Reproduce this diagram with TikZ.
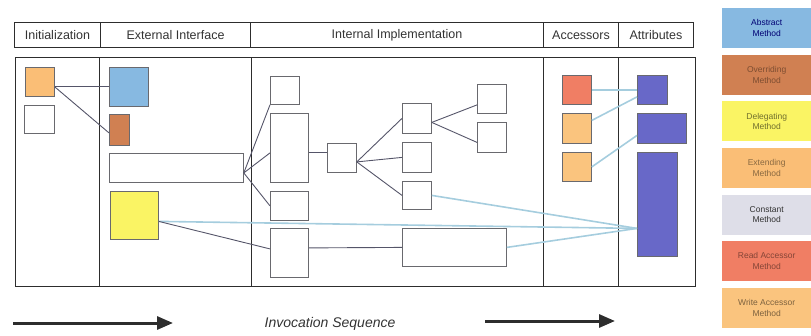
\documentclass[tikz,border=0pt]{standalone}
\usepackage{fontspec}
\setmainfont{Liberation Sans}
\usepackage{tikz}
\usetikzlibrary{positioning,arrows.meta}

\definecolor{framec}{RGB}{45,45,45}
\definecolor{boxc}{RGB}{105,105,110}
\definecolor{linkc}{RGB}{85,85,105}
\definecolor{accc}{RGB}{165,205,222}
\definecolor{abstractc}{RGB}{135,185,225}
\definecolor{overridec}{RGB}{208,128,82}
\definecolor{delegatec}{RGB}{250,244,100}
\definecolor{extendc}{RGB}{250,190,118}
\definecolor{constc}{RGB}{222,222,232}
\definecolor{readc}{RGB}{240,126,100}
\definecolor{writec}{RGB}{250,196,126}
\definecolor{attrc}{RGB}{104,104,200}

\begin{document}
\begin{tikzpicture}[
    x=1pt, y=-1pt,
    hcell/.style={draw=framec, line width=1pt, anchor=north west, inner sep=0, minimum height=25, text=black!80, font=\fontsize{12.5}{14}\selectfont},
    col/.style={draw=framec, line width=1pt, anchor=north west, inner sep=0, minimum height=229},
    mth/.style={draw=boxc, line width=0.8pt, anchor=north west, inner sep=0, fill=white},
    key/.style={anchor=north west, inner sep=0, minimum width=89, minimum height=40, align=center, font=\fontsize{8.5}{10.5}\selectfont},
    link/.style={linkc, line width=0.9pt},
    acc/.style={accc, line width=1.6pt},
    seq/.style={framec, line width=3pt, -{Triangle[length=16pt,width=13pt]}}
]
\useasboundingbox (0,0) rectangle (811,335);

\node[hcell, minimum width=86] (hinit) at (14,22) {Initialization};
\node[hcell, minimum width=150] (hext) at (100,22) {External Interface};
\node[hcell, minimum width=293] (himpl) at (250,22) {Internal Implementation};
\node[hcell, minimum width=75] (hacc) at (543,22) {Accessors};
\node[hcell, minimum width=75] (hattr) at (618,22) {Attributes};

\node[col, minimum width=84] (cinit) at (15,57) {};
\node[col, minimum width=152] (cext) at (99,57) {};
\node[col, minimum width=292] (cimpl) at (251,57) {};
\node[col, minimum width=75] (cacc) at (543,57) {};
\node[col, minimum width=77] (cattr) at (618,57) {};

\node[mth, fill=extendc, minimum width=29, minimum height=29] (iext) at (25,67) {};
\node[mth, minimum width=30, minimum height=28] (iplain) at (24,105) {};

\node[mth, fill=abstractc, minimum width=39, minimum height=39] (abs) at (109,67) {};
\node[mth, fill=overridec, minimum width=20, minimum height=31] (ovr) at (109,114) {};
\node[mth, minimum width=134, minimum height=29] (iface) at (109,153) {};
\node[mth, fill=delegatec, minimum width=48, minimum height=48] (dlg) at (110,191) {};

\node[mth, minimum width=29, minimum height=28] (ia) at (270,76) {};
\node[mth, minimum width=38, minimum height=69] (ib) at (270,113) {};
\node[mth, minimum width=38, minimum height=29] (ic) at (270,191) {};
\node[mth, minimum width=38, minimum height=49] (id) at (270,228) {};
\node[mth, minimum width=29, minimum height=29] (ja) at (327,143) {};
\node[mth, minimum width=29, minimum height=30] (ka) at (402,103) {};
\node[mth, minimum width=29, minimum height=30] (kb) at (402,142) {};
\node[mth, minimum width=29, minimum height=28] (kc) at (402,181) {};
\node[mth, minimum width=104, minimum height=38] (kd) at (402,228) {};
\node[mth, minimum width=29, minimum height=29] (la) at (477,84) {};
\node[mth, minimum width=29, minimum height=30] (lb) at (477,122) {};

\node[mth, fill=readc, minimum width=29, minimum height=29] (ra) at (562,75) {};
\node[mth, fill=writec, minimum width=29, minimum height=30] (rb) at (562,113) {};
\node[mth, fill=writec, minimum width=29, minimum height=29] (rc) at (562,152) {};

\node[mth, fill=attrc, minimum width=30, minimum height=29] (aa) at (637,75) {};
\node[mth, fill=attrc, minimum width=49, minimum height=30] (ab) at (637,113) {};
\node[mth, fill=attrc, minimum width=40, minimum height=104] (ac) at (637,152) {};

\draw[acc] ([yshift=-6pt]dlg.east) -- ([yshift=-24pt]ac.west);
\draw[acc] (kc.east) -- ([yshift=-24pt]ac.west);
\draw[acc] (kd.east) -- ([yshift=-24pt]ac.west);
\draw[acc] (ra.east) -- (aa.west);
\draw[acc] ([yshift=8pt]rb.east) -- ([yshift=-7pt]aa.west);
\draw[acc] (rc.east) -- ([yshift=-7pt]ab.west);

\draw[link] ([yshift=-5pt]iext.east) -- (abs.west);
\draw[link] ([yshift=-5pt]iext.east) -- ([yshift=-3pt]ovr.west);
\draw[link] ([yshift=-5pt]iface.east) -- (ia.south west);
\draw[link] ([yshift=-5pt]iface.east) -- ([yshift=-5pt]ib.west);
\draw[link] ([yshift=-5pt]iface.east) -- (ic.west);
\draw[link] ([yshift=-6pt]dlg.east) -- ([yshift=4pt]id.west);
\draw[link] ([yshift=-5pt]ib.east) -- ([yshift=5pt]ja.west);
\draw[link] ([yshift=-4pt]ja.east) -- (ka.west);
\draw[link] ([yshift=-4pt]ja.east) -- (kb.west);
\draw[link] ([yshift=-4pt]ja.east) -- (kc.west);
\draw[link] ([yshift=-4pt]ka.east) -- ([yshift=-6pt]la.west);
\draw[link] ([yshift=-4pt]ka.east) -- ([yshift=-5pt]lb.west);
\draw[link] ([yshift=5pt]id.east) -- (kd.west);

\node[key, fill=abstractc, text=blue!45!black] (kabs) at (722,8) {Abstract\\Method};
\node[key, fill=overridec, text=overridec!60!black, below=6.2pt of kabs] (kovr) {Overriding\\Method};
\node[key, fill=delegatec, text=delegatec!45!black, below=6.2pt of kovr] (kdlg) {Delegating\\Method};
\node[key, fill=extendc, text=extendc!55!black, below=6.2pt of kdlg] (kext) {Extending\\Method};
\node[key, fill=constc, text=black!80, below=6.2pt of kext] (kcon) {Constant\\Method};
\node[key, fill=readc, text=readc!55!black, below=6.2pt of kcon] (krd) {Read Accessor\\Method};
\node[key, fill=writec, text=writec!50!black, below=6.2pt of krd] (kwr) {Write Accessor\\Method};

\node[font=\itshape\fontsize{14}{16}\selectfont, text=black!80] (invoc) at (330,324) {Invocation Sequence};
\coordinate (lstart) at (13,323);
\coordinate (lend) at (173,323);
\coordinate (rstart) at (485,321);
\coordinate (rend) at (615,321);
\draw[seq] (lstart) -- (lend);
\draw[seq] (rstart) -- (rend);
\end{tikzpicture}
\end{document}
